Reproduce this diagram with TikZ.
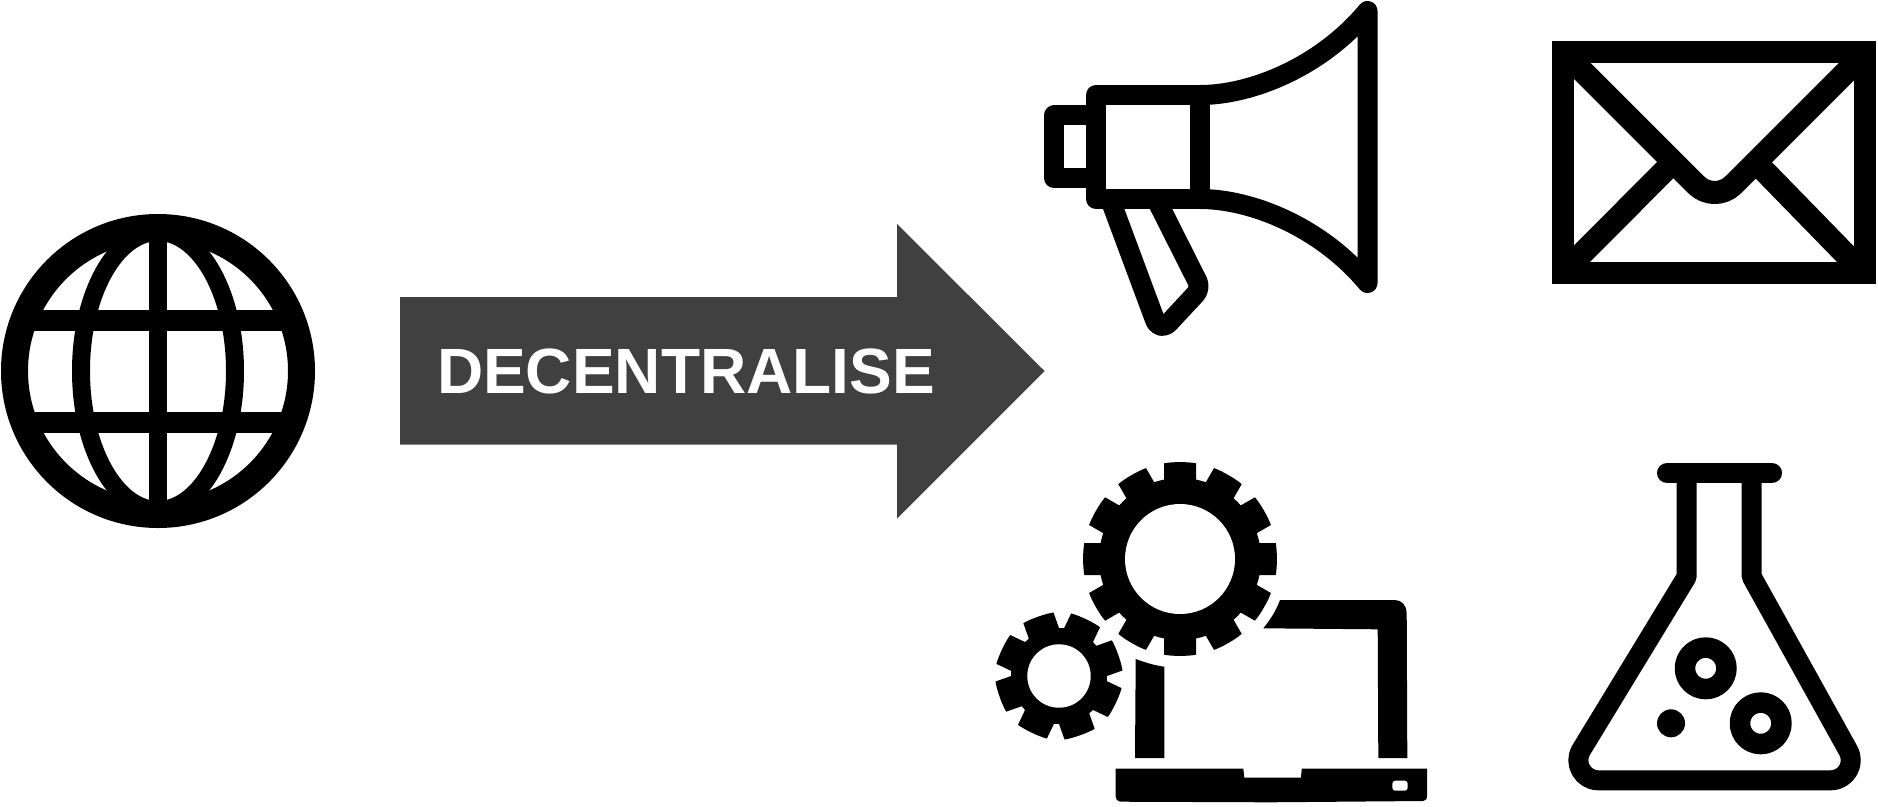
\documentclass[tikz,border=0pt]{standalone}
\usepackage{fontspec}
\newfontfamily\arrowfont{Liberation Sans}
\definecolor{arrowgray}{HTML}{404040}
\definecolor{iconblack}{HTML}{000000}

% one gear: centre, tooth count, first tooth angle, hole, root, tip, tooth half width
\newcommand{\drawgear}[8]{
  \fill[iconblack] (#1,#2) circle (#6);
  \pgfmathsetmacro{\gearstep}{360/#3}
  \foreach \k in {1,...,#3} {
    \begin{scope}[shift={(#1,#2)}, rotate={#4+\k*\gearstep}]
      \fill[iconblack] (#6-3,{-#8}) -- ({#7-1.6},{-#8}) .. controls (#7,{-#8/2}) and (#7,{#8/2}) .. ({#7-1.6},{#8}) -- (#6-3,{#8}) -- cycle;
    \end{scope}
  }
  \fill[white] (#1,#2) circle (#5);
}

\begin{document}
\begin{tikzpicture}[x=1pt, y=-1pt, line join=round,
  iconline/.style={draw=iconblack, line width=20pt},
  flapline/.style={draw=iconblack, line width=23pt}]

% Background
\fill[white] (0,0) rectangle (1878,806);
\useasboundingbox (0,0) rectangle (1878,806);

% --- Globe ---
\begin{scope}
\clip (158,371) circle (145);
\draw[iconblack, line width=18pt] (158,371) ellipse (77 and 139);
\draw[iconblack, line width=18pt] (158,225) -- (158,517);
\draw[iconblack, line width=21pt] (10,320) -- (306,320);
\draw[iconblack, line width=21pt] (10,422) -- (306,422);
\end{scope}
\draw[iconblack, line width=27pt] (158,371) circle (143.5);

% --- Arrow ---
\fill[arrowgray] (400,297) -- (897,297) -- (897,224) -- (1044.5,371)
  -- (897,518.5) -- (897,444.5) -- (400,444.5) -- cycle;
\node[font=\arrowfont\bfseries\fontsize{64}{70}\selectfont, text=white, inner sep=0pt]
  (decentralise) at (686,371) {DECENTRALISE};

% --- Megaphone ---
\draw[iconline] (1096,115.3) -- (1054.3,115.3) -- (1054.3,178.3) -- (1096,178.3);
\draw[iconline] (1096,95) rectangle (1200.3,199);
\draw[iconline, line cap=round] (1200.3,95) .. controls (1250,95) and (1320,68) .. (1367.5,11)
  -- (1367.5,283) .. controls (1320,226) and (1250,199) .. (1200.3,199);
\draw[iconline] (1110,199) [rounded corners=14pt] -- (1159.7,332.7)
  [rounded corners=8pt] -- (1201,288.3) [sharp corners] -- (1156,199);

% --- Envelope ---
\draw[iconblack, line width=22pt, line join=miter] (1563.3,51.7) rectangle (1864.7,273);
\draw[flapline, rounded corners=26pt] (1563.3,52) -- (1714.7,203.3) -- (1864,54);
\draw[flapline] (1673.3,162) -- (1570,265.7);
\draw[flapline] (1755.8,162.2) -- (1857,266);

% --- Gears and laptop ---
\drawgear{1180}{559}{12}{0}{55}{81}{97.3}{16}
\drawgear{1059}{676}{8}{19.5}{31.7}{48}{63.3}{16}

\fill[iconblack] (1280,600) -- (1395,600) .. controls (1402,600) and (1406.7,606) .. (1406.7,613.3)
  -- (1407.3,758) -- (1378.3,758) -- (1377.7,629.3) -- (1263.3,628.3)
  .. controls (1270,620) and (1276,611) .. (1280,600) -- cycle;
\fill[iconblack] (1135.7,659) .. controls (1145,662.5) and (1155,665.5) .. (1164.3,666.7)
  -- (1164.3,758) -- (1135,758) -- cycle;
\fill[iconblack] (1115.7,768.7) -- (1243.3,768.7) -- (1244.3,777.7) -- (1301,777.7) -- (1301.7,768.7)
  -- (1427,768.7) -- (1427,795) .. controls (1427,799) and (1426,801) .. (1423,801)
  -- (1270,802.3) -- (1120,801.7) .. controls (1117,801) and (1115.7,799) .. (1115.7,796.7) -- cycle;
\fill[white, rounded corners=3pt] (1392.3,780.7) rectangle (1407.7,790.7);

% --- Flask ---
\draw[iconblack, line width=20.7pt, line cap=round] (1667.3,473) -- (1771.7,473);
\draw[iconline] (1686.7,473) -- (1686.7,576.7) -- (1581.3,749.8)
  .. controls (1573.1,763.1) and (1582.7,780.3) .. (1598.3,780.3) -- (1830.7,780.3)
  .. controls (1846,780.3) and (1855.7,763.9) .. (1848.2,750.5)
  -- (1751.7,576.7) -- (1751.7,473);
\draw[iconblack, line width=20.5pt] (1705.7,668.3) circle (20.75);
\draw[iconblack, line width=20.5pt] (1760.7,723.3) circle (20.75);
\fill[iconblack] (1671,723.3) circle (14);

\end{tikzpicture}
\end{document}
